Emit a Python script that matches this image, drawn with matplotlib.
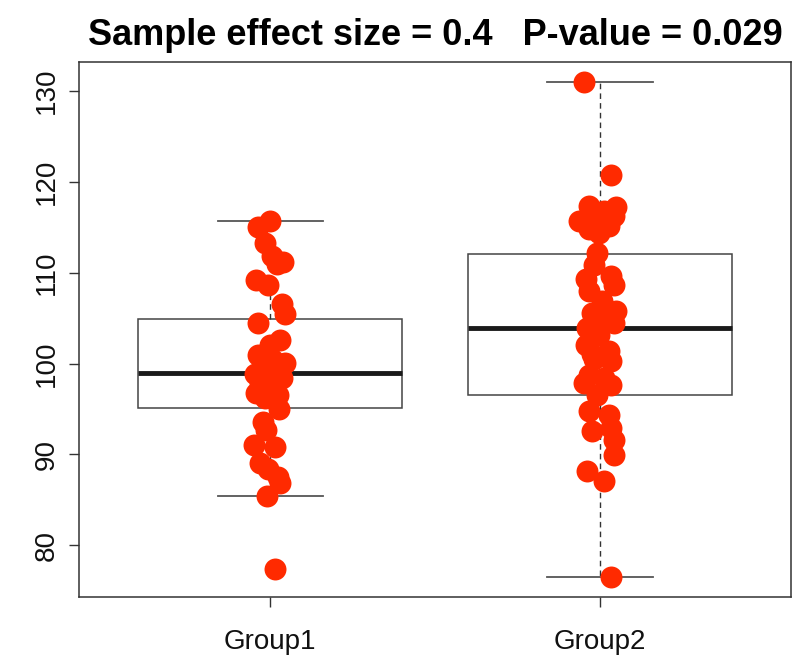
import matplotlib.pyplot as plt

groups = ["Group1", "Group2"]

# box statistics
q1 = [95.1, 96.5]
med = [99.0, 103.9]
q3 = [104.9, 112.1]
whislo = [85.4, 76.5]
whishi = [115.7, 131.0]

# jittered points: x offset from the group centre, y value
g1_dx = [0.000, -0.036, -0.015, 0.039, 0.021, 0.006, -0.042, -0.006, 0.036, 0.045,
         -0.036, 0.030, 0.000, -0.036, 0.045, -0.024, 0.015, -0.045, 0.036, -0.030,
         0.006, -0.042, 0.024, -0.015, 0.027, -0.021, -0.012, -0.048, 0.015, -0.030,
         -0.006, 0.024, 0.030, -0.009, 0.015, 0.009, -0.012, 0.000]
g1_y = [115.7, 115.0, 113.3, 111.2, 111.0, 111.8, 109.2, 108.7, 106.6, 105.5,
        104.5, 102.6, 102.1, 100.9, 100.1, 99.6, 99.0, 98.8, 98.4, 97.9,
        97.5, 96.8, 96.5, 96.2, 95.0, 93.6, 92.7, 91.0, 90.8, 89.0,
        88.4, 87.5, 86.9, 85.4, 77.4, 100.4, 98.2, 97.0]

g2_dx = [-0.048, 0.033, -0.033, 0.012, 0.042, -0.018, -0.063, 0.027, -0.033, -0.003,
         0.048, -0.009, -0.018, -0.042, 0.033, 0.042, -0.033, 0.006, -0.024, 0.018,
         0.042, -0.039, -0.003, -0.042, 0.027, -0.018, 0.033, -0.033, 0.012, -0.048,
         0.033, -0.009, -0.033, 0.027, -0.024, 0.033, 0.042, 0.042, -0.039, 0.012,
         0.033, 0.048, -0.024]
g2_y = [131.0, 120.8, 117.4, 116.8, 116.3, 116.0, 115.7, 115.2, 114.8, 114.4,
        117.2, 112.2, 110.8, 109.3, 109.6, 108.6, 108.0, 106.9, 105.6, 104.9,
        104.5, 103.9, 103.1, 102.0, 101.4, 100.5, 100.3, 98.7, 98.4, 97.9,
        97.6, 96.5, 94.8, 94.3, 92.6, 92.9, 91.6, 89.9, 88.2, 87.1,
        76.5, 105.8, 101.0]

plt.rcParams['font.family'] = ['Liberation Sans', 'DejaVu Sans']

fig = plt.figure(figsize=(7.93, 6.72), dpi=100)
ax = fig.add_axes([0.0996, 0.1116, 0.8984, 0.7961])

stats = []
for i in range(len(groups)):
    stats.append({'q1': q1[i], 'med': med[i], 'q3': q3[i],
                  'whislo': whislo[i], 'whishi': whishi[i], 'fliers': []})

ax.bxp(stats, positions=[1, 2], widths=0.8, showfliers=False, patch_artist=True,
       boxprops=dict(facecolor='white', edgecolor='#444444', linewidth=1.1),
       medianprops=dict(color='#1a1a1a', linewidth=3.5),
       whiskerprops=dict(color='#333333', linewidth=1, linestyle=(0, (4, 3))),
       capprops=dict(color='#555555', linewidth=1.3), capwidths=0.32)

red = '#ff2a00'
ax.scatter([1 + d for d in g1_dx], g1_y, s=250, color=red, zorder=5, linewidths=0)
ax.scatter([2 + d for d in g2_dx], g2_y, s=250, color=red, zorder=5, linewidths=0)

ax.set_xlim(0.42, 2.58)
ax.set_ylim(74.3, 133.2)
ax.set_xticks([1, 2])
ax.set_xticklabels(groups)
ax.set_yticks([80, 90, 100, 110, 120, 130])
ax.tick_params(axis='x', length=7, width=1, pad=16, labelsize=20, colors='#333333',
               labelcolor='#111111')
ax.tick_params(axis='y', length=7, width=1, pad=7, labelsize=20, colors='#333333',
               labelcolor='#111111')
for lab in ax.get_yticklabels():
    lab.set_rotation(90)
    lab.set_va('center')
for sp in ax.spines.values():
    sp.set_linewidth(1.1)
    sp.set_color('#333333')

ax.set_title("Sample effect size = 0.4   P-value = 0.029", fontsize=26,
             fontweight='bold', pad=12)

fig.savefig("out.png", dpi=100)
